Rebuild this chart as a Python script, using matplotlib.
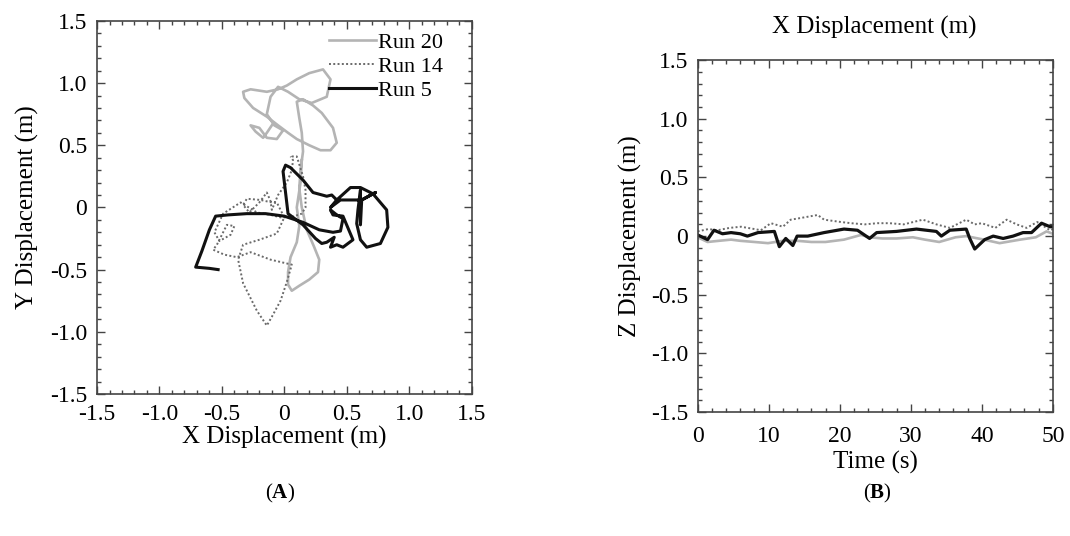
import matplotlib
matplotlib.use("Agg")
import matplotlib.pyplot as plt
from matplotlib.ticker import MultipleLocator, FixedLocator, FixedFormatter

plt.rcParams['font.family'] = ['Liberation Serif', 'DejaVu Serif']
plt.rcParams['mathtext.fontset'] = 'custom'
plt.rcParams['mathtext.rm'] = 'Liberation Serif'
plt.rcParams['mathtext.bf'] = 'Liberation Serif:bold'

# ---- panel A: horizontal trajectories (m) ----
run20_x = [0.14, 0.13, 0.10, 0.12, 0.10, 0.05, 0.03, 0.03, 0.06, 0.12, 0.20, 0.27, 0.28, 0.24,
           0.18, 0.14, 0.12, 0.13, 0.15, 0.14, 0.12, 0.10, 0.15, 0.23, 0.30, 0.39, 0.42, 0.37,
           0.29, 0.20, 0.10, 0.03, -0.05, -0.14, -0.25, -0.32, -0.33, -0.27, -0.14, -0.05,
           0.02, 0.10, 0.20, 0.31, 0.37, 0.34, 0.22, 0.12, 0.03, -0.05, -0.11, -0.14, -0.08,
           -0.01, -0.06, -0.14, -0.20, -0.27, -0.23, -0.17, -0.14, -0.10]
run20_y = [0.38, 0.20, 0.00, -0.15, -0.28, -0.40, -0.52, -0.62, -0.67, -0.63, -0.58, -0.52,
           -0.42, -0.32, -0.18, 0.00, 0.15, 0.30, 0.45, 0.60, 0.72, 0.85, 0.87, 0.82, 0.76,
           0.64, 0.52, 0.46, 0.46, 0.50, 0.55, 0.60, 0.66, 0.73, 0.80, 0.88, 0.93, 0.95, 0.93,
           0.95, 0.98, 1.03, 1.08, 1.11, 1.03, 0.89, 0.84, 0.87, 0.93, 0.97, 0.89, 0.75, 0.66,
           0.62, 0.55, 0.56, 0.64, 0.66, 0.61, 0.56, 0.60, 0.66]

run14_x = [0.06, 0.10, 0.15, 0.17, 0.17, 0.14, 0.05, -0.03, -0.11, -0.22, -0.35, -0.49,
           -0.56, -0.52, -0.43, -0.40, -0.46, -0.54, -0.57, -0.48, -0.38, -0.27, -0.11, 0.06,
           0.02, -0.03, -0.10, -0.14, -0.22, -0.33, -0.37, -0.33, -0.20, -0.06, 0.00, -0.06,
           -0.10, -0.19, -0.30, -0.33, -0.28, -0.20, -0.14, -0.11, -0.10, -0.05, 0.02, 0.06,
           0.07, 0.05]
run14_y = [0.41, 0.41, 0.25, 0.14, 0.00, -0.05, -0.08, -0.08, -0.06, -0.04, 0.04, -0.05,
           -0.20, -0.27, -0.22, -0.15, -0.14, -0.30, -0.34, -0.38, -0.40, -0.36, -0.42, -0.46,
           -0.60, -0.75, -0.88, -0.95, -0.83, -0.61, -0.42, -0.30, -0.26, -0.21, -0.08, 0.04,
           0.04, 0.06, 0.07, 0.02, -0.04, 0.04, 0.12, 0.05, -0.02, 0.10, 0.20, 0.30, 0.38, 0.41]

run5_x = [-0.53, -0.60, -0.71, -0.66, -0.60, -0.55, -0.45, -0.30, -0.15, 0.00, 0.15, 0.28,
          0.39, 0.45, 0.46, 0.47, 0.42, 0.37, 0.39, 0.47, 0.55, 0.47, 0.42, 0.37, 0.40, 0.34,
          0.30, 0.25, 0.15, 0.03, -0.01, 0.01, 0.05, 0.15, 0.23, 0.34, 0.38, 0.42, 0.53, 0.61,
          0.71, 0.82, 0.83, 0.77, 0.66, 0.61, 0.58, 0.59, 0.61, 0.61, 0.62, 0.73, 0.62, 0.45,
          0.37, 0.42]
run5_y = [-0.50, -0.49, -0.48, -0.35, -0.18, -0.07, -0.06, -0.05, -0.05, -0.07, -0.12,
          -0.18, -0.20, -0.19, -0.14, -0.09, -0.06, -0.02, -0.06, -0.07, -0.26, -0.32, -0.30,
          -0.32, -0.24, -0.28, -0.29, -0.25, -0.14, -0.05, 0.29, 0.34, 0.32, 0.22, 0.12, 0.09,
          0.10, 0.06, 0.16, 0.16, 0.11, -0.02, -0.16, -0.29, -0.32, -0.26, -0.13, -0.02, 0.14,
          -0.14, 0.06, 0.12, 0.06, 0.06, 0.00, 0.06]

# ---- panel B: vertical displacement vs time ----
t20 = [0, 1.4, 3, 4.7, 6, 8, 9.9, 12, 14, 16, 18, 20.6, 23, 24.2, 26, 28, 30.3, 32, 34,
       36.3, 37.8, 40.3, 42.5, 45.4, 47.6, 49.1, 50]
z20 = [-0.01, -0.05, -0.04, -0.03, -0.04, -0.05, -0.06, -0.04, -0.04, -0.05, -0.05, -0.03,
       0.01, -0.01, -0.02, -0.02, -0.01, -0.03, -0.05, -0.01, 0.00, -0.03, -0.06, -0.03,
       -0.01, 0.04, 0.02]

t14 = [0, 1.5, 2.8, 4.5, 6.1, 8, 8.9, 10.3, 12, 13.1, 14.1, 16.9, 17.8, 20.2, 21.6, 23.5,
       25.3, 27, 29, 31.7, 33.6, 35.5, 37.8, 39, 40, 41.9, 43.5, 44.9, 46.3, 47.8, 49.6, 50]
z14 = [0.04, 0.06, 0.05, 0.07, 0.08, 0.06, 0.05, 0.11, 0.08, 0.14, 0.15, 0.18, 0.14, 0.12,
       0.11, 0.10, 0.11, 0.11, 0.10, 0.14, 0.10, 0.07, 0.14, 0.10, 0.11, 0.07, 0.14, 0.10,
       0.07, 0.12, 0.05, 0.06]

t5 = [0, 1.4, 2.3, 3.5, 4.7, 6, 7, 8.5, 10.8, 11.5, 12.4, 13.4, 14, 15.5, 17.8, 20.6, 22.5,
      24.2, 25.2, 28, 30.8, 33.6, 34.3, 35.5, 37.8, 38.3, 39, 40.4, 41.6, 43, 44.4, 45.8,
      47, 48.4, 49.6, 50]
z5 = [0.01, -0.03, 0.05, 0.02, 0.03, 0.02, 0.00, 0.03, 0.04, -0.09, -0.02, -0.08, 0.00,
      0.00, 0.03, 0.06, 0.05, -0.02, 0.03, 0.04, 0.06, 0.04, 0.00, 0.05, 0.06, -0.02, -0.11,
      -0.03, 0.00, -0.02, 0.00, 0.03, 0.03, 0.11, 0.08, 0.08]

labels = ['Run 20', 'Run 14', 'Run 5']
disp_ticks = [-1.5, -1.0, -0.5, 0, 0.5, 1.0, 1.5]
disp_ticklabels = ['-1.5', '-1.0', '-0.5', '0', '0.5', '1.0', '1.5']
time_ticks = [0, 10, 20, 30, 40, 50]

c20, c14, c5 = '#b4b4b4', '#6a6a6a', '#111111'
fs_tick = 17
fs_lab = 18

fig = plt.figure(figsize=(10.7, 5.36), dpi=100)
axA = fig.add_axes([0.0907, 0.265, 0.350, 0.696])
axB = fig.add_axes([0.652, 0.231, 0.332, 0.657])

axA.plot(run20_x, run20_y, color=c20, lw=1.9, label=labels[0])
axA.plot(run14_x, run14_y, color=c14, lw=1.4, ls=(0, (1, 1.2)), label=labels[1])
axA.plot(run5_x, run5_y, color=c5, lw=2.2, label=labels[2])

axB.plot(t20, z20, color=c20, lw=1.9)
axB.plot(t14, z14, color=c14, lw=1.4, ls=(0, (1, 1.2)))
axB.plot(t5, z5, color=c5, lw=2.3)

for ax in (axA, axB):
    ax.set_ylim(-1.5, 1.5)
    ax.yaxis.set_major_locator(FixedLocator(disp_ticks))
    ax.yaxis.set_major_formatter(FixedFormatter(disp_ticklabels))
    ax.yaxis.set_minor_locator(MultipleLocator(0.1))
    ax.tick_params(which='both', direction='in', top=True, right=True,
                   labelsize=fs_tick, color='#444444', width=1.0, pad=7)
    ax.tick_params(which='major', length=6)
    ax.tick_params(which='minor', length=3)
    for s in ax.spines.values():
        s.set_color('#444444')
        s.set_linewidth(1.2)

axA.set_xlim(-1.5, 1.5)
axA.xaxis.set_major_locator(FixedLocator(disp_ticks))
axA.xaxis.set_major_formatter(FixedFormatter(disp_ticklabels))
axA.xaxis.set_minor_locator(MultipleLocator(0.1))
axA.set_xlabel('X Displacement (m)', fontsize=fs_lab, labelpad=1)
axA.set_ylabel('Y Displacement (m)', fontsize=fs_lab, labelpad=8)
axA.legend(loc='upper right', bbox_to_anchor=(0.96, 1.005), frameon=False, fontsize=fs_tick - 1,
           handlelength=2.1, handletextpad=0.1, labelspacing=0.15, borderaxespad=0.2)

axB.set_xlim(0, 50)
axB.set_xticks(time_ticks)
axB.xaxis.set_minor_locator(MultipleLocator(2))
axB.tick_params(axis='x', pad=10)
axB.set_xlabel('Time (s)', fontsize=fs_lab, labelpad=3)
axB.set_ylabel('Z Displacement (m)', fontsize=fs_lab, labelpad=6)

fig.text(0.817, 0.948, 'X Displacement (m)', fontsize=fs_lab, ha='center', va='center')
fig.text(0.262, 0.08, r'$\mathrm{(}\mathbf{A}\mathrm{)}$', fontsize=15, ha='center', va='center')
fig.text(0.82, 0.08, r'$\mathrm{(}\mathbf{B}\mathrm{)}$', fontsize=15, ha='center', va='center')

fig.savefig('out.png', dpi=100)
